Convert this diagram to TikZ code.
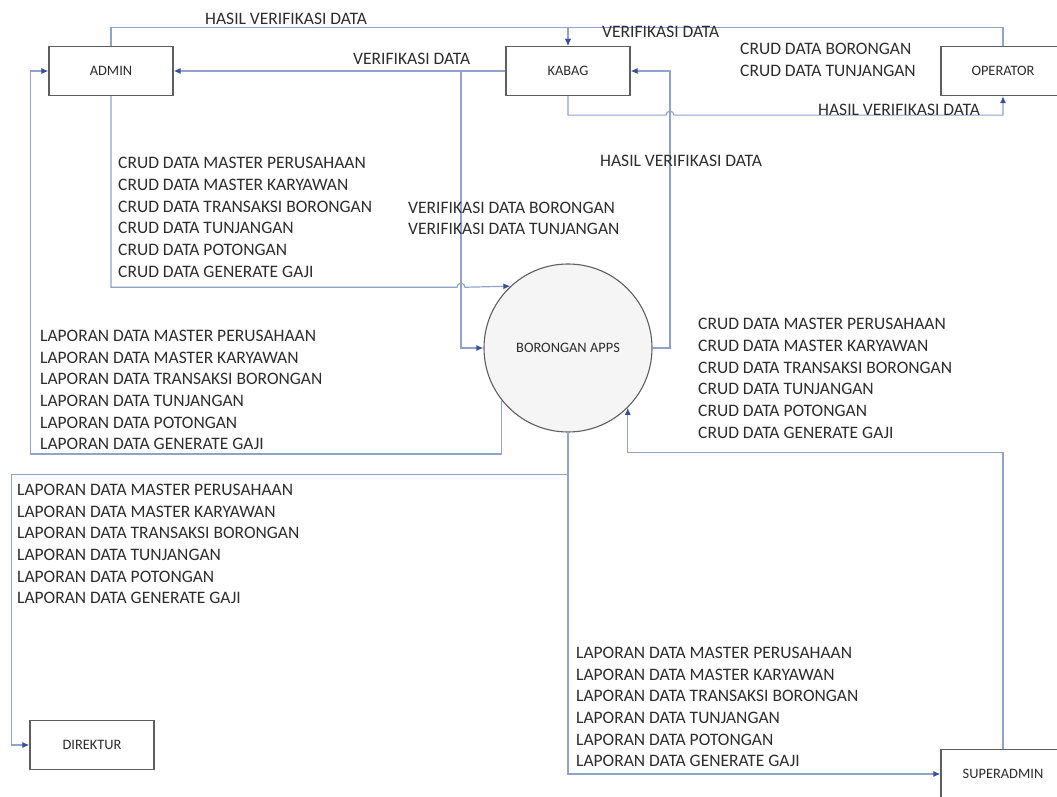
\documentclass[tikz,border=0pt]{standalone}
\usepackage{fontspec}
\setmainfont{Carlito}
\usetikzlibrary{arrows.meta}
\definecolor{flowblue}{RGB}{145,163,202}
\definecolor{tipblue}{RGB}{55,80,155}
\definecolor{boxgray}{RGB}{95,95,95}
\definecolor{txtgray}{RGB}{45,45,45}
\newcommand{\crudall}{CRUD DATA MASTER PERUSAHAAN\\CRUD DATA MASTER KARYAWAN\\CRUD DATA TRANSAKSI BORONGAN\\CRUD DATA TUNJANGAN\\CRUD DATA POTONGAN\\CRUD DATA GENERATE GAJI}
\newcommand{\laporanall}{LAPORAN DATA MASTER PERUSAHAAN\\LAPORAN DATA MASTER KARYAWAN\\LAPORAN DATA TRANSAKSI BORONGAN\\LAPORAN DATA TUNJANGAN\\LAPORAN DATA POTONGAN\\LAPORAN DATA GENERATE GAJI}
\tikzset{
	box/.style={draw=boxgray, line width=1.3pt, fill=white, minimum width=124pt, minimum height=49pt, inner sep=0pt, text=txtgray, font=\fontsize{14.4}{16}\selectfont},
	proc/.style={circle, draw=boxgray, line width=1.1pt, fill=black!4, minimum size=168pt, inner sep=0pt, text=txtgray, font=\fontsize{14.4}{16}\selectfont},
	flow/.style={draw=flowblue, line width=1.2pt},
	lbl/.style={anchor=west, align=left, inner sep=0pt, text=txtgray, font=\fontsize{17.5}{21.7}\selectfont}
}
\begin{document}
\begin{tikzpicture}[x=1pt, y=1pt, >={Latex[length=7pt,width=6pt,color=tipblue]}]
		\useasboundingbox (0,0) rectangle (1057,796);
		%	entitas
		\foreach \n/\t/\p in {admin/ADMIN/{(111,725)}, kabag/KABAG/{(568,725)}, operator/OPERATOR/{(1003,725)}, direktur/DIREKTUR/{(92,51)}, superadmin/SUPERADMIN/{(1003,22)}}
			\node[box] (\n) at \p {\t};
		\node[proc] (apps) at (568,448) {BORONGAN APPS};
		\path
		(461,725) coordinate (br1)
		(670,448) coordinate (br2)
		;
		%	alur data
		\draw[flow,->] (admin.north) -- ++(0,18.5) -| (kabag.north);
		\draw[flow,->] (operator.north) -- ++(0,18.5) -| (kabag.north);
		\draw[flow,->] (kabag.west) -- (admin.east);
		\draw[flow,->] (br1) |- (apps.west);
		\draw[flow,->] (admin.south) -- ++(0,-191.1) -- ++(346,0) arc[start angle=180, end angle=0, radius=4] -- (apps.133);
		\draw[flow,->] (kabag.south) -- ++(0,-19) -- ++(98,0) arc[start angle=180, end angle=0, radius=4] -| (operator.south);
		\draw[flow,->] (apps.east) -- (br2) |- (kabag.east);
		\draw[flow,->] (apps.218) -- ++(0,-54) -| ([xshift=-18pt]admin.west) -- (admin.west);
		\draw[flow,->] (apps.south) -- ++(0,-42) -| ([xshift=-18pt]direktur.west) -- (direktur.west);
		\draw[flow,->] (apps.south) |- (superadmin.west);
		\draw[flow,->] (superadmin.north) -- ++(0,296.5) -| (apps.-45);
		%	label
		\node[lbl] (hasiltop) at (205,777) {HASIL VERIFIKASI DATA};
		\node[lbl] (verifadmin) at (353,737) {VERIFIKASI DATA};
		\node[lbl] (verifkabag) at (602,764) {VERIFIKASI DATA};
		\node[lbl] (crudop) at (740,736) {CRUD DATA BORONGAN\\CRUD DATA TUNJANGAN};
		\node[lbl] (hasilop) at (818,686) {HASIL VERIFIKASI DATA};
		\node[lbl] (hasilapps) at (600,635) {HASIL VERIFIKASI DATA};
		\node[lbl] (crudadmin) at (118,578.5) {\crudall};
		\node[lbl] (verifapps) at (408,577.5) {VERIFIKASI DATA BORONGAN\\VERIFIKASI DATA TUNJANGAN};
		\node[lbl] (lapadmin) at (40,406) {\laporanall};
		\node[lbl] (crudsuper) at (698,417.5) {\crudall};
		\node[lbl] (lapdir) at (17,252) {\laporanall};
		\node[lbl] (lapsuper) at (576,89) {\laporanall};
	\end{tikzpicture}
\end{document}
